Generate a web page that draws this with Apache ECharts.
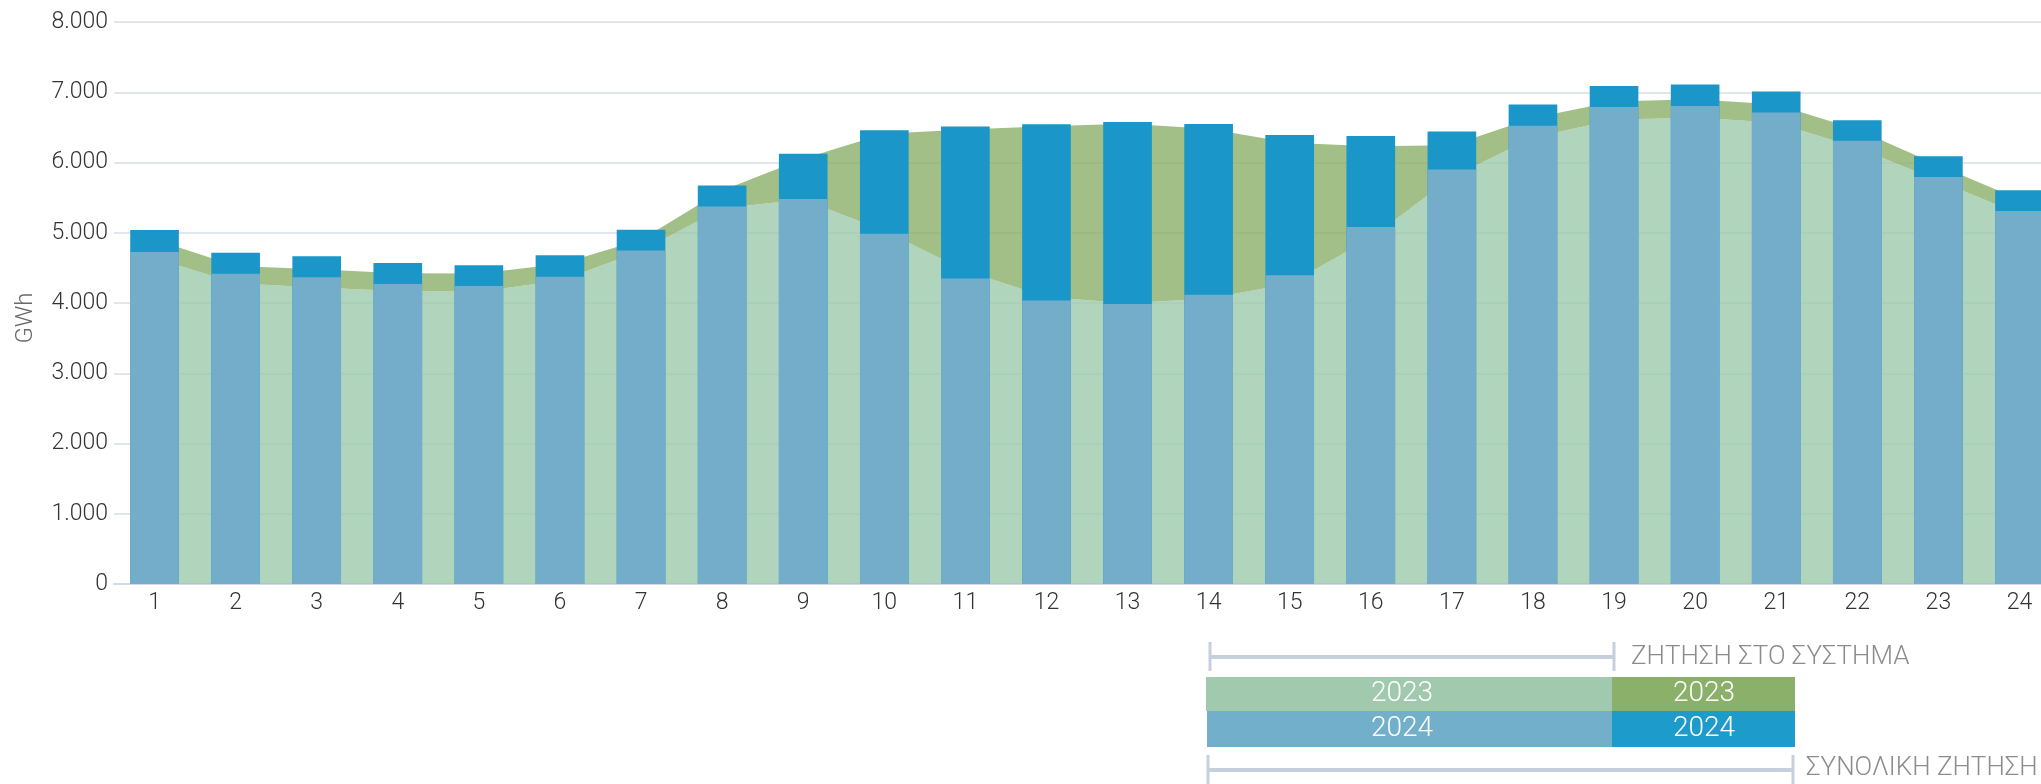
<!DOCTYPE html>
<html>
<head>
<meta charset="utf-8">
<script src="https://cdn.jsdelivr.net/npm/echarts@6/dist/echarts.min.js"></script>
<style>
  html, body { margin: 0; padding: 0; background: #fff; overflow: hidden; }
  /* the plot runs past the right edge of the window, as in the original */
  #chart { width: 2060px; height: 784px; }
</style>
</head>
<body>
<div id="chart"></div>
<script>
// hours of the day
const hours = ['1', '2', '3', '4', '5', '6', '7', '8', '9', '10', '11', '12',
  '13', '14', '15', '16', '17', '18', '19', '20', '21', '22', '23', '24']

// 2023 (areas), GWh
const system2023 = [4640, 4280, 4220, 4170, 4165, 4315, 4740, 5350, 5475, 5030, 4460, 4085,
  3995, 4065, 4275, 4925, 5790, 6355, 6610, 6640, 6565, 6210, 5745, 5265]
const total2023 = [4905, 4525, 4480, 4425, 4420, 4555, 4900, 5600, 6055, 6410, 6470, 6515,
  6550, 6480, 6280, 6230, 6245, 6635, 6870, 6900, 6825, 6470, 5960, 5475]

// 2024 (bars), GWh
const system2024 = [4725, 4417, 4365, 4270, 4242, 4374, 4746, 5375, 5479, 4987, 4348, 4036,
  3984, 4116, 4396, 5082, 5901, 6522, 6790, 6805, 6710, 6310, 5795, 5310]
const total2024 = [5038, 4716, 4664, 4569, 4536, 4678, 5044, 5673, 6123, 6459, 6511, 6544,
  6577, 6549, 6393, 6379, 6440, 6824, 7090, 7110, 7010, 6600, 6090, 5605]

const legendTop = 'ΖΗΤΗΣΗ ΣΤΟ ΣΥΣΤΗΜΑ'
const legendBottom = 'ΣΥΝΟΛΙΚΗ ΖΗΤΗΣΗ'

const FONT = 'Roboto, "Noto Sans", sans-serif'
const bracket = '#c6d0dd'

const fmt = (v) => String(v).replace(/\B(?=(\d{3})+(?!\d))/g, '.')

const chart = echarts.init(document.getElementById('chart'))

// 2023 total shown as band above system demand
const extra2023 = total2023.map((v, i) => v - system2023[i])

const option = {
  animation: false,
  grid: { left: 114, right: 0, top: 22, bottom: 200, containLabel: false },
  xAxis: {
    type: 'category',
    data: hours,
    boundaryGap: true,
    axisLine: { lineStyle: { color: '#d5dce5', width: 2 } },
    axisTick: { show: false },
    axisLabel: { color: '#333', fontSize: 23, fontFamily: FONT, fontWeight: 300, margin: 8 },
    splitLine: { show: false }
  },
  yAxis: {
    type: 'value',
    min: 0,
    max: 8000,
    interval: 1000,
    axisLine: { show: false },
    axisTick: { show: false },
    axisLabel: { color: '#333', fontSize: 23, fontFamily: FONT, fontWeight: 300, margin: 6, formatter: fmt },
    splitLine: { lineStyle: { color: '#e1e6ec', width: 2 } }
  },
  series: [
    {
      name: 'system2023',
      type: 'line',
      stack: 'y2023',
      data: system2023,
      symbol: 'none',
      lineStyle: { width: 0 },
      areaStyle: { color: '#9fcaad', opacity: 0.82 },
      z: 1
    },
    {
      name: 'total2023',
      type: 'line',
      stack: 'y2023',
      data: extra2023,
      symbol: 'none',
      lineStyle: { width: 0 },
      areaStyle: { color: '#8bb06a', opacity: 0.81 },
      z: 1
    },
    {
      name: 'total2024',
      type: 'bar',
      data: total2024,
      barWidth: '60%',
      itemStyle: { color: '#1a96c8' },
      z: 3
    },
    {
      name: 'system2024',
      type: 'bar',
      data: system2024,
      barWidth: '60%',
      barGap: '-100%',
      itemStyle: { color: '#74adc9' },
      z: 3
    }
  ],
  graphic: [
    {
      type: 'text', x: 26, y: 318, rotation: Math.PI / 2,
      style: { text: 'GWh', fill: '#6a6a6a', font: '300 24px ' + FONT, textAlign: 'center', textVerticalAlign: 'middle' }
    },
    // top bracket
    { type: 'line', shape: { x1: 1210, y1: 657, x2: 1614, y2: 657 }, style: { stroke: bracket, lineWidth: 4 } },
    { type: 'line', shape: { x1: 1210, y1: 642, x2: 1210, y2: 671 }, style: { stroke: bracket, lineWidth: 3 } },
    { type: 'line', shape: { x1: 1614, y1: 642, x2: 1614, y2: 671 }, style: { stroke: bracket, lineWidth: 3 } },
    {
      type: 'text', x: 1631, y: 657,
      style: { text: legendTop, fill: '#8c8c8c', font: '300 26px ' + FONT, textVerticalAlign: 'middle' }
    },
    // colour blocks
    { type: 'rect', shape: { x: 1206, y: 677, width: 406, height: 34 }, style: { fill: '#a0c9ad' } },
    { type: 'rect', shape: { x: 1612, y: 677, width: 183, height: 34 }, style: { fill: '#8bb06a' } },
    { type: 'rect', shape: { x: 1207, y: 711, width: 405, height: 36 }, style: { fill: '#72afca' } },
    { type: 'rect', shape: { x: 1612, y: 711, width: 183, height: 36 }, style: { fill: '#1d9bcb' } },
    { type: 'text', x: 1402, y: 694, style: { text: '2023', fill: '#fff', font: '300 28px ' + FONT, textAlign: 'center', textVerticalAlign: 'middle' } },
    { type: 'text', x: 1704, y: 694, style: { text: '2023', fill: '#fff', font: '300 28px ' + FONT, textAlign: 'center', textVerticalAlign: 'middle' } },
    { type: 'text', x: 1402, y: 729, style: { text: '2024', fill: '#fff', font: '300 28px ' + FONT, textAlign: 'center', textVerticalAlign: 'middle' } },
    { type: 'text', x: 1704, y: 729, style: { text: '2024', fill: '#fff', font: '300 28px ' + FONT, textAlign: 'center', textVerticalAlign: 'middle' } },
    // bottom bracket
    { type: 'line', shape: { x1: 1208, y1: 770, x2: 1793, y2: 770 }, style: { stroke: bracket, lineWidth: 4 } },
    { type: 'line', shape: { x1: 1208, y1: 755, x2: 1208, y2: 784 }, style: { stroke: bracket, lineWidth: 3 } },
    { type: 'line', shape: { x1: 1793, y1: 755, x2: 1793, y2: 784 }, style: { stroke: bracket, lineWidth: 3 } },
    {
      type: 'text', x: 1806, y: 768,
      style: { text: legendBottom, fill: '#8c8c8c', font: '300 26px ' + FONT, textVerticalAlign: 'middle' }
    }
  ]
}

chart.setOption(option)
</script>
</body>
</html>
